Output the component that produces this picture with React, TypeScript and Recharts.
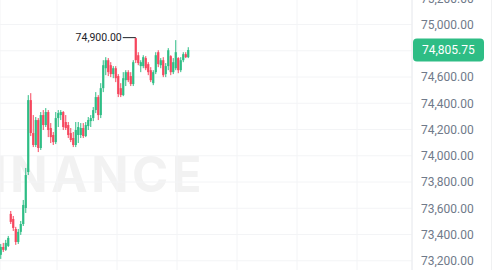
import React from 'react';
import { ComposedChart, Bar, XAxis, YAxis, CartesianGrid, ReferenceLine, ReferenceDot } from 'recharts';

const GREEN = '#2ebd85';
const RED = '#f6465d';

const opens = [73245, 73305, 73283, 73313, 73557, 73518, 73442, 73343, 73420, 73480, 73602, 73876, 74424, 74173, 74082, 74272, 74059, 74310, 74234, 74333, 74211, 74158, 74104, 74287, 74310, 74333, 74257, 74234, 74173, 74135, 74082, 74158, 74158, 74211, 74150, 74226, 74264, 74287, 74348, 74447, 74310, 74515, 74667, 74728, 74690, 74622, 74667, 74607, 74515, 74462, 74576, 74637, 74607, 74546, 74896, 74766, 74683, 74683, 74744, 74698, 74652, 74553, 74637, 74789, 74690, 74728, 74622, 74683, 74759, 74637, 74667, 74744, 74652, 74728, 74774, 74751];
const highs = [73328, 73336, 73359, 73389, 73579, 73541, 73458, 73442, 73503, 73663, 73907, 74462, 74477, 74310, 74295, 74287, 74333, 74348, 74363, 74348, 74249, 74181, 74333, 74348, 74348, 74340, 74310, 74257, 74211, 74181, 74257, 74257, 74249, 74249, 74257, 74295, 74310, 74371, 74485, 74462, 74553, 74728, 74751, 74744, 74713, 74683, 74683, 74622, 74553, 74637, 74652, 74652, 74637, 74728, 74900, 74789, 74728, 74766, 74759, 74713, 74675, 74652, 74789, 74804, 74744, 74751, 74706, 74820, 74766, 74744, 74881, 74751, 74751, 74789, 74789, 74827];
const lows = [73214, 73267, 73275, 73305, 73480, 73427, 73321, 73328, 73397, 73465, 73564, 73853, 74150, 74066, 74066, 74028, 74044, 74196, 74219, 74142, 74097, 74082, 74089, 74219, 74272, 74196, 74196, 74135, 74104, 74066, 74066, 74097, 74135, 74135, 74142, 74196, 74219, 74264, 74325, 74272, 74287, 74485, 74614, 74607, 74599, 74591, 74561, 74447, 74447, 74454, 74531, 74561, 74531, 74531, 74706, 74690, 74637, 74667, 74652, 74614, 74561, 74538, 74622, 74675, 74667, 74599, 74599, 74652, 74614, 74622, 74652, 74629, 74637, 74713, 74744, 74744];
const closes = [73305, 73283, 73336, 73374, 73496, 73450, 73343, 73420, 73480, 73625, 73853, 74424, 74173, 74082, 74272, 74059, 74310, 74234, 74333, 74196, 74142, 74104, 74287, 74325, 74333, 74219, 74211, 74158, 74120, 74082, 74196, 74219, 74211, 74150, 74234, 74272, 74287, 74348, 74447, 74310, 74515, 74690, 74728, 74637, 74622, 74667, 74591, 74470, 74462, 74591, 74637, 74576, 74546, 74713, 74728, 74706, 74713, 74751, 74667, 74637, 74576, 74637, 74766, 74698, 74728, 74614, 74683, 74804, 74637, 74713, 74789, 74652, 74728, 74774, 74751, 74805.75];

const priceTicks = [73000, 73200, 73400, 73600, 73800, 74000, 74200, 74400, 74600, 74800, 75000, 75200];
const gridTicks = [22.5, 46.5, 70.5, 94.5, 118.5, 142.5];

const data = opens.map((o, i) => ({ i, open: o, high: highs[i], low: lows[i], close: closes[i] }));
const maxHigh = Math.max(...highs);
const maxIndex = highs.indexOf(maxHigh);
const lastClose = closes[closes.length - 1];

const fmt = (v: number) => v.toLocaleString('en-US', { minimumFractionDigits: 2, maximumFractionDigits: 2 });

const Candle = (props: any) => {
  const { x, y, width, height, payload } = props;
  const { open, close, high, low } = payload;
  const color = close >= open ? GREEN : RED;
  const top = Math.min(y, y + height);
  const h = Math.abs(height);
  const range = high - low || 1;
  const yOf = (v: number) => top + ((high - v) / range) * h;
  const cx = x + width / 2;
  const bTop = yOf(Math.max(open, close));
  const bBot = yOf(Math.min(open, close));
  return (
    <g>
      <line x1={cx} x2={cx} y1={top} y2={top + h} stroke={color} strokeWidth={1} />
      <rect x={cx - 1.1} y={bTop} width={2.2} height={Math.max(bBot - bTop, 1)} fill={color} />
    </g>
  );
};

const HighMarker = (props: any) => {
  const { cx, cy } = props;
  return (
    <g>
      <line x1={cx - 13} x2={cx} y1={cy} y2={cy} stroke="#1e2329" strokeWidth={1} />
      <text x={cx - 14} y={cy} dy="0.35em" textAnchor="end" fontSize={10.5} fontFamily="Roboto" fill="#1e2329">{fmt(maxHigh)}</text>
    </g>
  );
};

const Badge = (props: any) => {
  const { viewBox } = props;
  const { x, y, width } = viewBox;
  const bx = x + width + 1;
  return (
    <g>
      <rect x={bx} y={y - 11.5} width={71} height={23} rx={4} fill={GREEN} />
      <text x={bx + 9} y={y} dy="0.36em" fontSize={12} fontFamily="Roboto" fill="#ffffff">{fmt(lastClose)}</text>
    </g>
  );
};

const PriceTick = (props: any) => {
  const { x, y, payload } = props;
  if (Math.abs(payload.value - lastClose) < 60) return <g />;
  return (
    <text x={x} y={y} dy="0.355em" textAnchor="start" fontSize={12} fontFamily="Roboto" fill="#707a8a">{fmt(payload.value)}</text>
  );
};

export default function App() {
  return (
    <div style={{ position: 'fixed', left: 0, top: 0, width: 492, height: 270, overflow: 'hidden', background: '#fff' }}>
      <svg style={{ position: 'absolute', left: 0, top: 0 }} width={492} height={270}>
        <text x={205} y={192} textAnchor="end" fontSize={49} fontWeight={700} fontFamily="Inter" fill="#f2f2f2" style={{ letterSpacing: 3.5 }}>BINANCE</text>
      </svg>
      <div style={{ position: 'absolute', left: 0, top: -28 }}>
        <ComposedChart width={492} height={315} data={data} margin={{ top: 0, right: 0, bottom: 0, left: 0 }}>
          <CartesianGrid stroke="#f3f4f6" />
          <XAxis dataKey="i" type="number" domain={[-0.3, 164.5]} ticks={gridTicks} hide allowDataOverflow />
          <YAxis
            orientation="right"
            domain={[73000, 75400]}
            ticks={priceTicks}
            width={80}
            allowDataOverflow
            tick={PriceTick}
            axisLine={{ stroke: '#eaecef' }}
            tickLine={false}
            tickSize={0}
            tickMargin={9}
          />
          <Bar dataKey={(d: any) => [d.low, d.high]} shape={Candle} isAnimationActive={false} />
          <ReferenceDot x={maxIndex} y={maxHigh} r={0} shape={HighMarker} ifOverflow="visible" />
          <ReferenceLine y={lastClose} stroke="none" label={Badge} ifOverflow="visible" />
        </ComposedChart>
      </div>
      <div style={{ position: 'absolute', left: 491, top: 0, width: 1, height: 270, background: '#f0f1f2' }} />
    </div>
  );
}
